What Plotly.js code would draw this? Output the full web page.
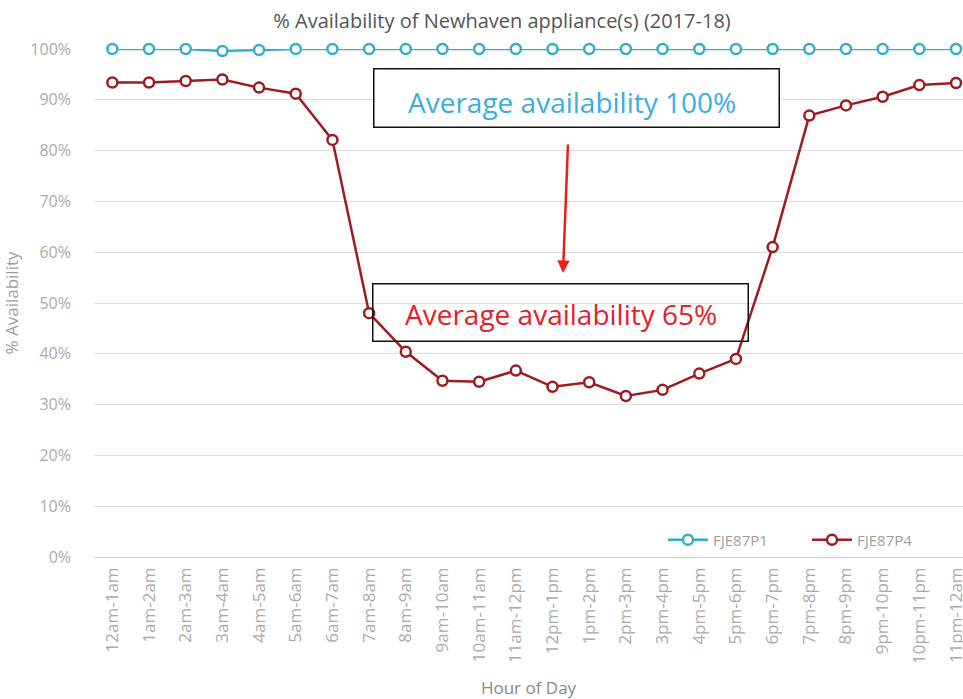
<!DOCTYPE html>
<html>
<head>
<meta charset="utf-8">
<script src="https://cdn.plot.ly/plotly-3.0.1.min.js"></script>
<style>html,body{margin:0;padding:0;background:#fff;}#chart{width:963px;height:699px;}</style>
</head>
<body>
<div id="chart"></div>
<script>
const hours = ['12am-1am','1am-2am','2am-3am','3am-4am','4am-5am','5am-6am','6am-7am','7am-8am','8am-9am','9am-10am','10am-11am','11am-12pm','12pm-1pm','1pm-2pm','2pm-3pm','3pm-4pm','4pm-5pm','5pm-6pm','6pm-7pm','7pm-8pm','8pm-9pm','9pm-10pm','10pm-11pm','11pm-12am'];
const seriesNames = ['FJE87P1','FJE87P4'];
const p1 = [100,100,100,99.6,99.8,100,100,100,100,100,100,100,100,100,100,100,100,100,100,100,100,100,100,100];
const p4 = [93.4,93.4,93.7,94.0,92.4,91.2,82.1,48.0,40.4,34.7,34.5,36.7,33.5,34.4,31.7,32.9,36.1,39.0,61.0,86.9,88.9,90.6,92.9,93.3];
const yTicks = [0,10,20,30,40,50,60,70,80,90,100];
const yTickText = yTicks.map(v => v + '%');
const annoTexts = ['Average availability 100%','Average availability 65%'];

const L = 94, T = 49, W = 869, H = 508;
const px = v => (v - L) / W;
const py = v => (T + H - v) / H;

const traces = [
  {x: hours, y: p1, name: seriesNames[0], type: 'scatter', mode: 'lines+markers', cliponaxis: false,
   line: {color: '#35aecb', width: 2.5},
   marker: {symbol: 'circle', size: 10, color: '#ffffff', line: {color: '#35aecb', width: 2.5}}},
  {x: hours, y: p4, name: seriesNames[1], type: 'scatter', mode: 'lines+markers', cliponaxis: false,
   line: {color: '#9e1b22', width: 2.5},
   marker: {symbol: 'circle', size: 10, color: '#ffffff', line: {color: '#9e1b22', width: 2.5}}}
];

const layout = {
  width: 963, height: 699,
  margin: {l: L, r: 0, t: T, b: 699 - T - H, autoexpand: false},
  paper_bgcolor: '#ffffff', plot_bgcolor: '#ffffff',
  font: {family: 'Open Sans, sans-serif', color: '#a8a8a8'},
  title: {text: '% Availability of Newhaven appliance(s) (2017-18)', font: {size: 20, color: '#555555', family: 'Open Sans, sans-serif'},
          xref: 'container', yref: 'container', x: 502/963, xanchor: 'center', y: 1 - 21/699, yanchor: 'middle'},
  xaxis: {type: 'category', range: [-0.5, 23.19], tickangle: -90, showgrid: false, zeroline: false, showline: false,
          tickfont: {size: 17, color: '#ababab'}, automargin: false, ticks: '', ticklabelstandoff: 6,
          title: {text: 'Hour of Day', font: {size: 17, color: '#8a8a8a'}, standoff: 20}},
  yaxis: {range: [0, 100], tickvals: yTicks, ticktext: yTickText, showgrid: true, gridcolor: '#dedede', gridwidth: 1,
          zeroline: true, zerolinecolor: '#d0d0d0', showline: false, ticks: '', automargin: false,
          tickfont: {size: 16, color: '#ababab'}, ticklabelstandoff: 22,
          title: {text: '% Availability', font: {size: 17, color: '#a0a0a0'}, standoff: 14}},
  showlegend: true,
  legend: {orientation: 'h', x: px(663), xanchor: 'left', y: py(540), yanchor: 'middle',
           font: {size: 15, color: '#a0a0a0'}, bgcolor: 'rgba(0,0,0,0)', entrywidth: 89, entrywidthmode: 'pixels',
           itemwidth: 40},
  annotations: [
    {xref: 'paper', yref: 'paper', x: px(576), y: py(97.5), xanchor: 'center', yanchor: 'middle',
     text: ' ', showarrow: false, width: 404, height: 57, bordercolor: '#111111', borderwidth: 1.5, borderpad: 0,
     bgcolor: '#ffffff'},
    {xref: 'paper', yref: 'paper', x: px(572), y: py(102), xanchor: 'center', yanchor: 'middle',
     text: annoTexts[0], showarrow: false, font: {size: 28, color: '#3aaee0', family: 'Open Sans, sans-serif'}},
    {xref: 'paper', yref: 'paper', x: px(560), y: py(312), xanchor: 'center', yanchor: 'middle',
     text: ' ', showarrow: false, width: 374, height: 56, bordercolor: '#111111', borderwidth: 1.5, borderpad: 0,
     bgcolor: 'rgba(255,255,255,0)'},
    {xref: 'paper', yref: 'paper', x: px(561), y: py(314), xanchor: 'center', yanchor: 'middle',
     text: annoTexts[1], showarrow: false, font: {size: 28, color: '#e6202a', family: 'Open Sans, sans-serif'}},
    {xref: 'paper', yref: 'paper', x: px(563), y: py(273), text: '', showarrow: true, ax: 5, ay: -130,
     arrowcolor: '#e8201c', arrowwidth: 2.5, arrowhead: 2, arrowsize: 1}
  ]
};

Plotly.newPlot('chart', traces, layout, {displayModeBar: false, staticPlot: true});
</script>
</body>
</html>
